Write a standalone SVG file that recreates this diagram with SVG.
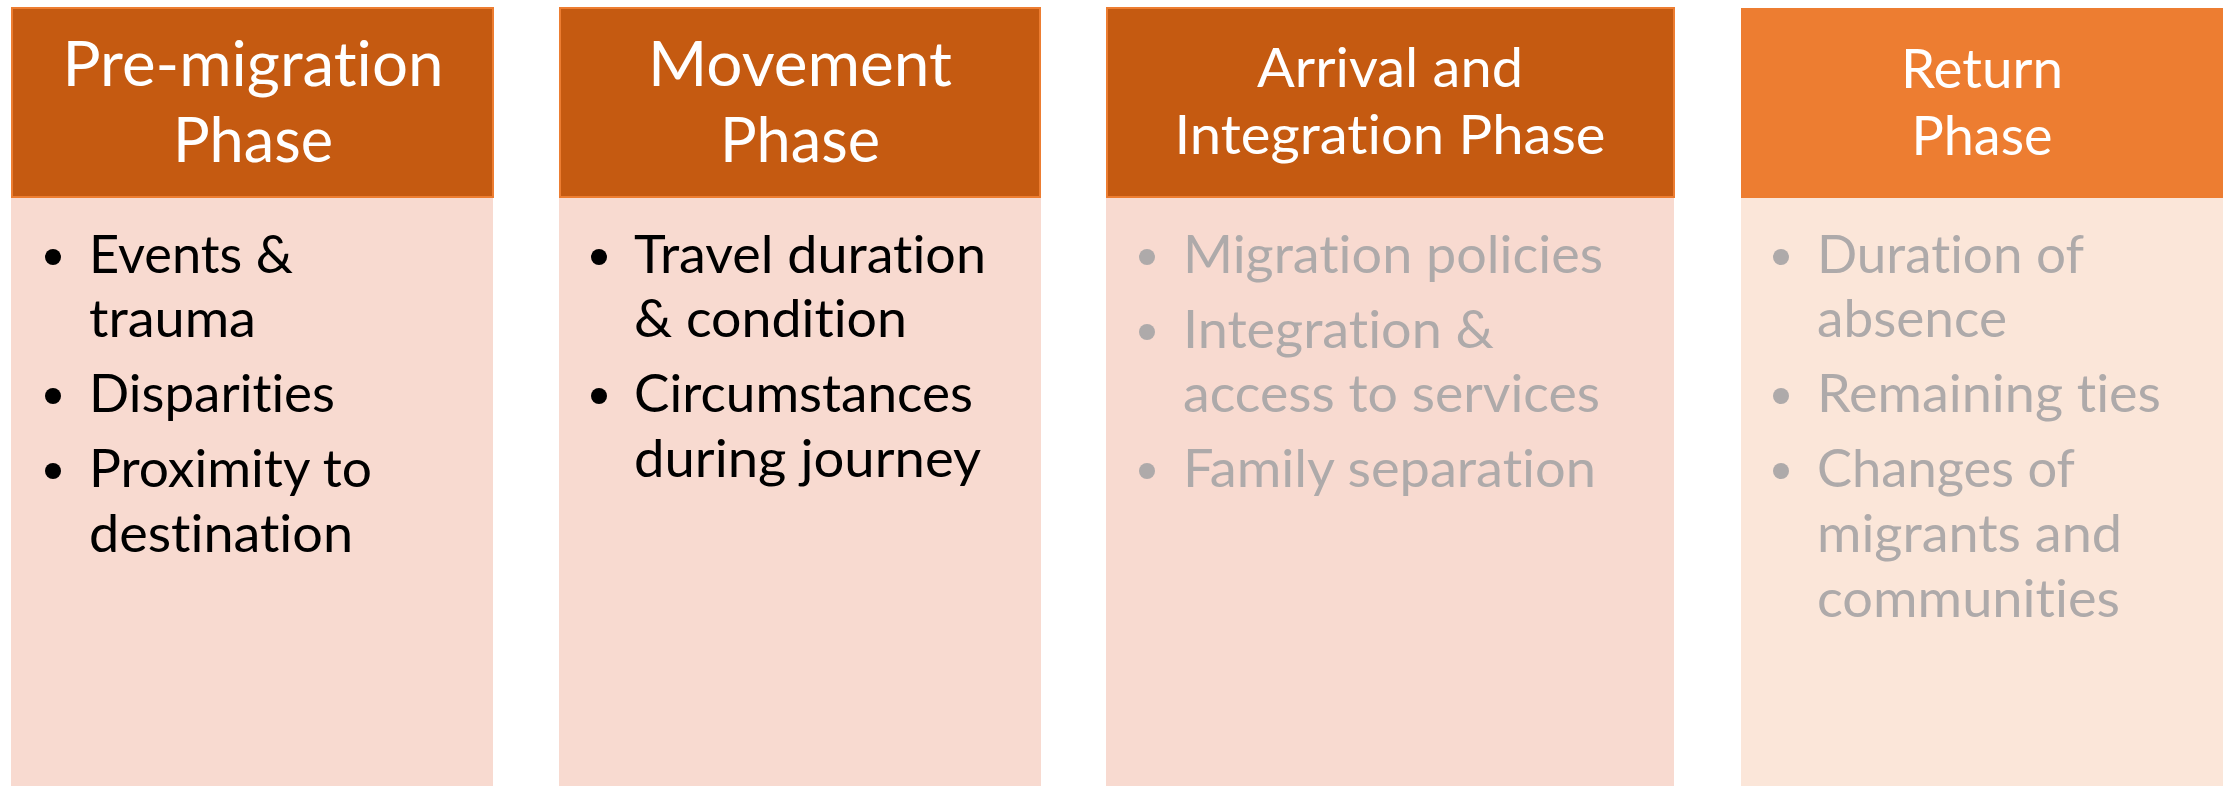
<svg xmlns="http://www.w3.org/2000/svg" width="2223" height="786" viewBox="0 0 2223 786">
<style>
.hd{fill:#C55A11;stroke:#ED7D31;stroke-width:2}
.hd4{fill:#ED7D31}
.bd{fill:#F8DAD0}
.bd4{fill:#FBE6D9}
text{font-variant-ligatures:none;font-feature-settings:"liga" 0,"clig" 0}
.ht{font-family:Lato,"Open Sans","Liberation Sans",sans-serif;fill:#FFFFFF;text-anchor:middle}
.big{font-size:61px}
.mid{font-size:54px}
.bt{font-family:Lato,"Open Sans","Liberation Sans",sans-serif;font-size:52px;fill:#000000}
.gt{fill:#AEAAAA}
.bl{fill:#000000}
.gb{fill:#AEAAAA}
</style>
<rect width="2223" height="786" fill="#FFFFFF"/>
<g id="premigration">
<rect class="bd" x="11" y="198" width="482" height="588"/>
<rect class="hd" x="12" y="8" width="481" height="189"/>
<text class="ht big" x="253" y="86" textLength="381" lengthAdjust="spacingAndGlyphs">Pre-migration</text>
<text class="ht big" x="253" y="162" textLength="160" lengthAdjust="spacingAndGlyphs">Phase</text>
<circle class="bl" cx="53" cy="257" r="8"/>
<circle class="bl" cx="53" cy="396" r="8"/>
<circle class="bl" cx="53" cy="471" r="8"/>
<text class="bt" x="89" y="273" textLength="204" lengthAdjust="spacingAndGlyphs">Events &amp;</text>
<text class="bt" x="89" y="337" textLength="167" lengthAdjust="spacingAndGlyphs">trauma</text>
<text class="bt" x="89" y="412" textLength="246" lengthAdjust="spacingAndGlyphs">Disparities</text>
<text class="bt" x="89" y="487" textLength="283" lengthAdjust="spacingAndGlyphs">Proximity to</text>
<text class="bt" x="89" y="552" textLength="264" lengthAdjust="spacingAndGlyphs">destination</text>
</g>
<g id="movement">
<rect class="bd" x="559" y="198" width="482" height="588"/>
<rect class="hd" x="560" y="8" width="480" height="189"/>
<text class="ht big" x="800" y="86" textLength="304" lengthAdjust="spacingAndGlyphs">Movement</text>
<text class="ht big" x="800" y="162" textLength="160" lengthAdjust="spacingAndGlyphs">Phase</text>
<circle class="bl" cx="599" cy="257" r="8"/>
<circle class="bl" cx="599" cy="396" r="8"/>
<text class="bt" x="634" y="273" textLength="352" lengthAdjust="spacingAndGlyphs">Travel duration</text>
<text class="bt" x="634" y="337" textLength="273" lengthAdjust="spacingAndGlyphs">&amp; condition</text>
<text class="bt" x="634" y="412" textLength="339" lengthAdjust="spacingAndGlyphs">Circumstances</text>
<text class="bt" x="634" y="477" textLength="347" lengthAdjust="spacingAndGlyphs">during journey</text>
</g>
<g id="arrival">
<rect class="bd" x="1106" y="198" width="568" height="588"/>
<rect class="hd" x="1107" y="8" width="567" height="189"/>
<text class="ht mid" x="1390" y="87" textLength="266" lengthAdjust="spacingAndGlyphs">Arrival and</text>
<text class="ht mid" x="1390" y="154" textLength="431" lengthAdjust="spacingAndGlyphs">Integration Phase</text>
<circle class="gb" cx="1147" cy="257" r="8"/>
<circle class="gb" cx="1147" cy="332" r="8"/>
<circle class="gb" cx="1147" cy="471" r="8"/>
<text class="bt gt" x="1183" y="273" textLength="420" lengthAdjust="spacingAndGlyphs">Migration policies</text>
<text class="bt gt" x="1183" y="348" textLength="311" lengthAdjust="spacingAndGlyphs">Integration &amp;</text>
<text class="bt gt" x="1183" y="412" textLength="417" lengthAdjust="spacingAndGlyphs">access to services</text>
<text class="bt gt" x="1183" y="487" textLength="413" lengthAdjust="spacingAndGlyphs">Family separation</text>
</g>
<g id="return">
<rect class="bd4" x="1741" y="198" width="482" height="588"/>
<rect class="hd4" x="1741" y="8" width="482" height="190"/>
<text class="ht mid" x="1982" y="88" textLength="162" lengthAdjust="spacingAndGlyphs">Return</text>
<text class="ht mid" x="1982" y="155" textLength="141" lengthAdjust="spacingAndGlyphs">Phase</text>
<circle class="gb" cx="1781" cy="257" r="8"/>
<circle class="gb" cx="1781" cy="396" r="8"/>
<circle class="gb" cx="1781" cy="471" r="8"/>
<text class="bt gt" x="1817" y="273" textLength="267" lengthAdjust="spacingAndGlyphs">Duration of</text>
<text class="bt gt" x="1817" y="337" textLength="190" lengthAdjust="spacingAndGlyphs">absence</text>
<text class="bt gt" x="1817" y="412" textLength="344" lengthAdjust="spacingAndGlyphs">Remaining ties</text>
<text class="bt gt" x="1817" y="487" textLength="258" lengthAdjust="spacingAndGlyphs">Changes of</text>
<text class="bt gt" x="1817" y="552" textLength="305" lengthAdjust="spacingAndGlyphs">migrants and</text>
<text class="bt gt" x="1817" y="617" textLength="303" lengthAdjust="spacingAndGlyphs">communities</text>
</g>
<g id="connectors"></g>
</svg>
